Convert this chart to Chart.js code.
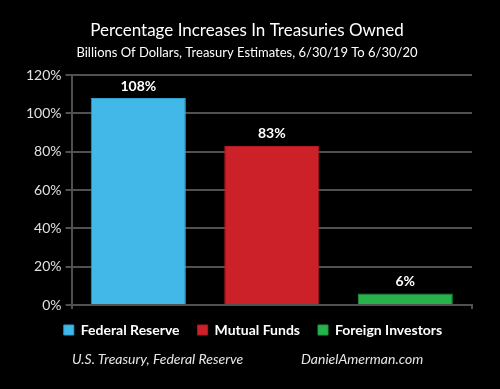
<!DOCTYPE html>
<html>
<head>
<meta charset="utf-8">
<script src="https://cdn.jsdelivr.net/npm/chart.js@4"></script>
<style>
  html, body { margin: 0; padding: 0; background: #000; }
  #wrap { position: relative; width: 500px; height: 389px; background: #000; }
  .foot { position: absolute; top: 350px; font: italic 14px Lato, sans-serif; color: #e6e6e6; }
</style>
</head>
<body>
<div id="wrap">
  <canvas id="chart" width="500" height="389"></canvas>
  <div class="foot" style="left:72px">U.S. Treasury, Federal Reserve</div>
  <div class="foot" style="left:301px">DanielAmerman.com</div>
</div>
<script>
'use strict';

let canvasElem = document.getElementById('chart');

let categories = ['Federal Reserve', 'Mutual Funds', 'Foreign Investors'];
let increases = [108, 83, 6];
let barColors = ['#42b8e9', '#cc2129', '#27b24c'];
let edgeColors = ['#2a9fd0', '#b01a20', '#1e9a3e'];
let yTicks = ['0%', '20%', '40%', '60%', '80%', '100%', '120%'];

let gridColor = '#505050';

// draws the % value above each bar
const valueLabels = {
  id: 'valueLabels',
  afterDatasetsDraw(chart) {
    let ctx = chart.ctx;
    let meta = chart.getDatasetMeta(0);
    ctx.save();
    ctx.fillStyle = '#ffffff';
    ctx.font = 'bold 14px Lato, sans-serif';
    ctx.textAlign = 'center';
    ctx.textBaseline = 'bottom';
    meta.data.forEach(function (bar, i) {
      ctx.fillText(increases[i] + '%', bar.x, bar.y - 5);
    });
    ctx.restore();
  }
};

// nudge the legend a little right and up, like the original
const legendNudge = {
  id: 'legendNudge',
  afterLayout(chart) {
    let lg = chart.legend;
    lg.left += 6; lg.right += 6;
    lg.top -= 4; lg.bottom -= 4;
  }
};

const data = {
  labels: categories,
  datasets: [{
    label: 'Increase',
    data: increases,
    backgroundColor: barColors,
    borderColor: edgeColors,
    borderWidth: 1,
    barPercentage: 0.95,
    categoryPercentage: 0.75
  }]
};

const config = {
  type: 'bar',
  data: data,
  options: {
    responsive: false,
    animation: false,
    layout: { padding: { left: 22, right: 28, bottom: 38 } },
    scales: {
      x: {
        ticks: { display: false },
        grid: {
          offset: true,
          drawOnChartArea: false,
          tickLength: 4,
          lineWidth: 2,
          color: function (c) {
            return (c.type !== 'tick' || c.index === 0) ? gridColor : 'rgba(0,0,0,0)';
          }
        },
        border: { color: gridColor, width: 2 }
      },
      y: {
        min: 0,
        max: 120,
        ticks: {
          stepSize: 20,
          color: '#e0e0e0',
          font: { family: 'Lato', size: 14 },
          padding: 4,
          callback: function (v, i) { return yTicks[i]; }
        },
        grid: { color: gridColor, lineWidth: 2, tickLength: 6 },
        border: { color: gridColor, width: 2 }
      }
    },
    plugins: {
      title: {
        display: true,
        text: 'Percentage Increases In Treasuries Owned',
        color: '#ffffff',
        font: { family: 'Lato', size: 17, weight: 'normal' },
        padding: { top: 20, bottom: 5 }
      },
      subtitle: {
        display: true,
        text: 'Billions Of Dollars, Treasury Estimates, 6/30/19 To 6/30/20',
        color: '#ffffff',
        font: { family: 'Lato', size: 13 },
        padding: { bottom: 14 }
      },
      legend: {
        position: 'bottom',
        labels: {
          color: '#ffffff',
          font: { family: 'Lato', size: 14, weight: 'bold' },
          boxWidth: 10,
          boxHeight: 10,
          padding: 18,
          generateLabels: function () {
            return categories.map(function (c, i) {
              return { text: c, fillStyle: barColors[i], strokeStyle: edgeColors[i], lineWidth: 1, fontColor: '#ffffff' };
            });
          }
        }
      },
      tooltip: { enabled: false }
    }
  },
  plugins: [valueLabels, legendNudge]
};

new Chart(canvasElem, config);
</script>
</body>
</html>
